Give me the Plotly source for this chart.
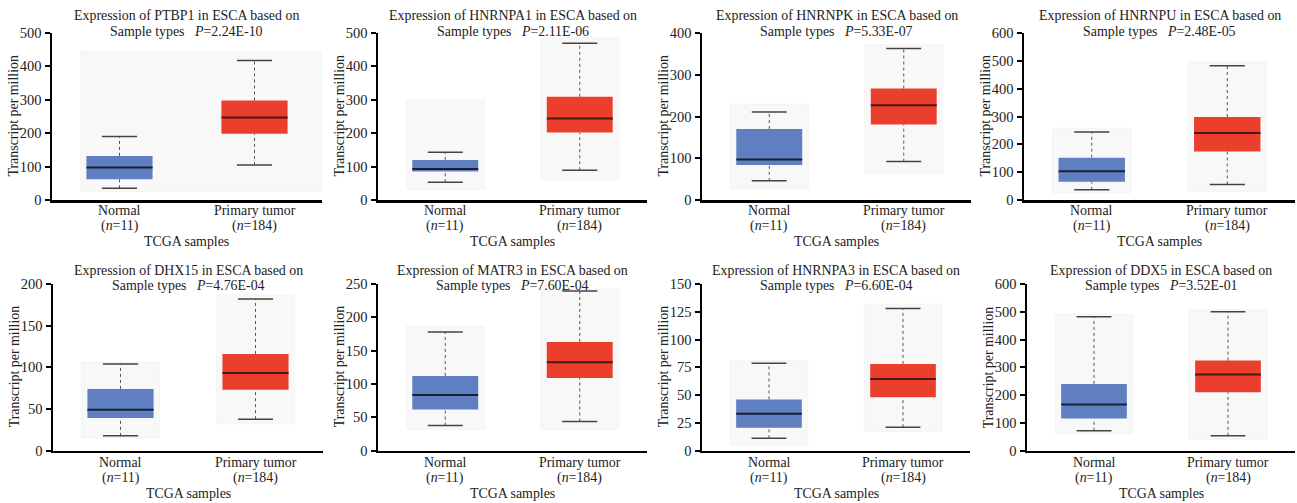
import plotly.graph_objects as go

# ---------------- data ----------------
genes = ["PTBP1", "HNRNPA1", "HNRNPK", "HNRNPU", "DHX15", "MATR3", "HNRNPA3", "DDX5"]
pvals = ["2.24E-10", "2.11E-06", "5.33E-07", "2.48E-05", "4.76E-04", "7.60E-04", "6.60E-04", "3.52E-01"]
y_max = [500, 500, 400, 600, 200, 250, 150, 600]
y_step = [100, 100, 100, 100, 50, 50, 25, 100]
categories = ["Normal", "Primary tumor"]
n_counts = [11, 184]

normal_low = [35, 53, 46, 37, 17.6, 37.5, 11, 71]
normal_q1 = [62, 85, 84, 66, 39, 61.5, 20.4, 115]
normal_med = [97, 93, 97, 103, 49, 83.5, 33, 166]
normal_q3 = [132, 120, 170, 152, 74, 112, 46, 240]
normal_high = [190, 143, 211, 244, 104, 178, 78.6, 482]

tumor_low = [105, 89, 92, 56, 37.6, 43.5, 21, 53]
tumor_q1 = [198, 202, 181, 174, 73, 109, 48, 210]
tumor_med = [247, 244, 227, 241, 93, 132.5, 64.5, 274]
tumor_q3 = [298, 309, 267, 298, 116, 163, 78, 324]
tumor_high = [418, 469, 363, 482, 182, 239.5, 128, 500]

normal_bg_lo = [25, 32, 27, 26, 15, 32, 5, 60]
normal_bg_hi = [445, 300, 230, 258, 106, 186, 81, 492]
tumor_bg_lo = [25, 60, 64, 30, 32, 32, 17, 40]
tumor_bg_hi = [445, 485, 372, 496, 187, 242, 132, 506]

# ---------------- layout geometry ----------------
W, H = 1297, 503
col_px = [[(52, 322), (378, 647), (702, 971), (1024, 1295)],
          [(53, 323), (378, 647), (702, 970), (1027, 1295)]]
row_px = [(33, 200), (284, 450.5)]
title_y = [(15, 31), (270, 285)]
cat_y = [(210, 226), (462, 478)]
xtitle_y = [241, 493]

FONT = "Liberation Serif"
TXT = "#222"
BLUE = "#5f7fc1"
RED = "#ea3f2d"
FS = 13.9
fig = go.Figure()
layout = dict(
    width=W, height=H, margin=dict(l=0, r=0, t=0, b=0),
    paper_bgcolor="white", plot_bgcolor="white", showlegend=False,
    barmode="overlay", font=dict(family=FONT, color=TXT),
)
annotations = []
shapes = []

BOX_W = 0.49
CAP_W = 0.13
BG_W = 0.29


def ann(**kw):
    d = dict(showarrow=False, xanchor="center", yanchor="middle",
             font=dict(size=FS, family=FONT, color=TXT))
    d.update(kw)
    annotations.append(d)


for k in range(8):
    r, c = divmod(k, 4)
    x0p, x1p = col_px[r][c]
    ytop, ybot = row_px[r]
    xa = "x" if k == 0 else f"x{k+1}"
    ya = "y" if k == 0 else f"y{k+1}"
    xkey = "xaxis" if k == 0 else f"xaxis{k+1}"
    ykey = "yaxis" if k == 0 else f"yaxis{k+1}"

    lows = [normal_low[k], tumor_low[k]]
    q1s = [normal_q1[k], tumor_q1[k]]
    meds = [normal_med[k], tumor_med[k]]
    q3s = [normal_q3[k], tumor_q3[k]]
    highs = [normal_high[k], tumor_high[k]]
    bg_lo = [normal_bg_lo[k], tumor_bg_lo[k]]
    bg_hi = [normal_bg_hi[k], tumor_bg_hi[k]]
    colors = [BLUE, RED]
    med_colors = ["#1c1f33", "#4a1714"]

    # background panels
    if k == 0:
        shapes.append(dict(type="rect", xref=xa, yref=ya, layer="below",
                           x0=0 - BG_W, x1=1.5, y0=bg_lo[0], y1=bg_hi[0],
                           fillcolor="#f8f8f8", line=dict(color="#f0f0f0", width=0.6)))
    else:
        for i in range(2):
            shapes.append(dict(type="rect", xref=xa, yref=ya, layer="below",
                               x0=i - BG_W, x1=i + BG_W, y0=bg_lo[i], y1=bg_hi[i],
                               fillcolor="#f8f8f8", line=dict(color="#f0f0f0", width=0.6)))

    # boxes
    fig.add_trace(go.Bar(x=[0, 1], y=[q3s[i] - q1s[i] for i in range(2)], base=q1s,
                         width=BOX_W, marker=dict(color=colors, line=dict(width=0)),
                         xaxis=xa, yaxis=ya, hoverinfo="skip"))
    for i in range(2):
        fig.add_trace(go.Scatter(x=[i, i, None, i, i], y=[lows[i], q1s[i], None, q3s[i], highs[i]],
                                 mode="lines", line=dict(color="#555", width=1, dash="dot"),
                                 xaxis=xa, yaxis=ya, hoverinfo="skip"))
        fig.add_trace(go.Scatter(x=[i - CAP_W, i + CAP_W, None, i - CAP_W, i + CAP_W],
                                 y=[lows[i], lows[i], None, highs[i], highs[i]],
                                 mode="lines", line=dict(color="#444", width=1.5),
                                 xaxis=xa, yaxis=ya, hoverinfo="skip"))
        fig.add_trace(go.Scatter(x=[i - BOX_W / 2, i + BOX_W / 2], y=[meds[i], meds[i]],
                                 mode="lines", line=dict(color=med_colors[i], width=2),
                                 xaxis=xa, yaxis=ya, hoverinfo="skip"))
        # category labels
        ann(xref=xa, yref="paper", x=i, y=1 - cat_y[r][0] / H, text=categories[i])
        ann(xref=xa, yref="paper", x=i, y=1 - cat_y[r][1] / H,
            text=f"(<i>n</i>={n_counts[i]})")

    layout[xkey] = dict(
        domain=[x0p / W, x1p / W], anchor=ya, range=[-0.5, 1.5],
        showticklabels=False, ticks="", showline=True, linecolor="black", linewidth=2.5,
        showgrid=False, zeroline=False, fixedrange=True, automargin=False,
    )
    layout[ykey] = dict(
        domain=[1 - ybot / H, 1 - ytop / H], anchor=xa, range=[0, y_max[k]],
        tickmode="linear", tick0=0, dtick=y_step[k],
        ticks="outside", ticklen=5, tickwidth=2, tickcolor="black",
        showline=True, linecolor="black", linewidth=2.5,
        showgrid=False, zeroline=False, tickfont=dict(size=14.5, family=FONT, color=TXT),
        fixedrange=True, automargin=False,
    )

    cx = (x0p + x1p) / 2 / W
    ann(xref="paper", yref="paper", x=cx, y=1 - title_y[r][0] / H,
        text=f"Expression of {genes[k]} in ESCA based on")
    ann(xref="paper", yref="paper", x=cx, y=1 - title_y[r][1] / H,
        text="Sample types\u00a0\u00a0\u00a0<i>P</i>=" + pvals[k])
    ann(xref="paper", yref="paper", x=cx, y=1 - xtitle_y[r] / H, text="TCGA samples")
    ann(xref="paper", yref="paper", x=(x0p - 39) / W, y=1 - (ytop + ybot) / 2 / H,
        text="Transcript per million", textangle=-90)

layout["annotations"] = annotations
layout["shapes"] = shapes
fig.update_layout(**layout)
fig.write_html("out.html", config={"displayModeBar": False, "staticPlot": True},
               post_script="document.body.style.margin='0';document.body.style.overflow='hidden';")
